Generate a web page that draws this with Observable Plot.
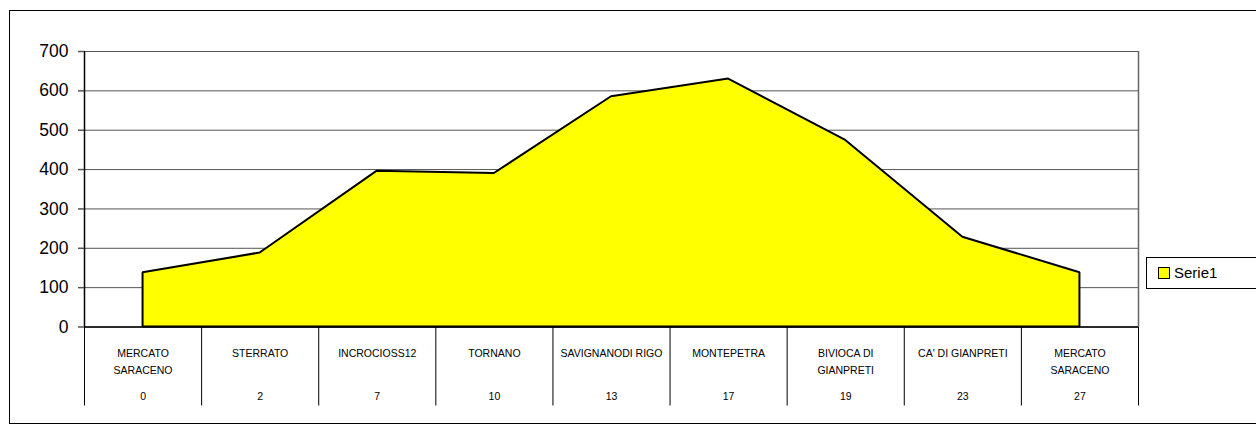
<!DOCTYPE html>
<html><head><meta charset="utf-8">
<script src="https://cdn.jsdelivr.net/npm/d3@7"></script>
<script src="https://cdn.jsdelivr.net/npm/@observablehq/plot@0.6"></script>
<style>
body{margin:0;background:#fff;}
#wrap{position:relative;width:1256px;height:427px;overflow:hidden;font-family:"Liberation Sans",Arial,sans-serif;}
#border{position:absolute;left:9px;top:10px;width:1300px;height:414px;border:1px solid #000;box-sizing:border-box;}
#chart{position:absolute;left:0;top:0;}
#legend{position:absolute;left:1146px;top:257px;width:130px;height:32px;border:1px solid #000;box-sizing:border-box;background:#fff;}
#legend .sw{position:absolute;left:11px;top:9px;width:12px;height:12px;background:#ffff00;border:1px solid #000;box-sizing:border-box;}
#legend .lb{position:absolute;left:27px;top:6px;font-size:15px;line-height:18px;color:#000;}
</style></head>
<body>
<div id="wrap">
  <div id="border"></div>
  <div id="chart"></div>
  <div id="legend"><div class="sw"></div><div class="lb">Serie1</div></div>
</div>
<script>
const names = ["MERCATO\nSARACENO","STERRATO","INCROCIOSS12","TORNANO","SAVIGNANODI RIGO","MONTEPETRA","BIVIOCA DI\nGIANPRETI","CA' DI GIANPRETI","MERCATO\nSARACENO"];
const km = ["0","2","7","10","13","17","19","23","27"];
const elev = [138,188,396,390,585,630,474,228,138];
const yTicks = [0,100,200,300,400,500,600,700];

const idx = names.map((_, i) => i);
const data = idx.map(i => ({i, name: names[i], km: km[i], elev: elev[i]}));
const xDomain = [-0.5, names.length - 0.5];
const bounds = d3.range(xDomain[0], xDomain[1] + 0.01, 1);

const plot = Plot.plot({
  width: 1256, height: 427,
  marginLeft: 84, marginRight: 118, marginTop: 51, marginBottom: 100.5,
  x: {type: "linear", domain: xDomain, axis: null, label: null},
  y: {domain: [0, 700], axis: null, label: null},
  style: {fontFamily: "'Liberation Sans', Arial, sans-serif", background: "transparent", overflow: "visible", color: "#000"},
  marks: [
    Plot.gridY(yTicks, {stroke: "#555", strokeOpacity: 1, strokeWidth: 1}),
    Plot.ruleX([xDomain[1]], {stroke: "#666", strokeWidth: 1.5}),
    Plot.areaY(data, {x: "i", y: "elev", fill: "#ffff00", stroke: "#000", strokeWidth: 2, strokeLinejoin: "miter"}),
    Plot.ruleY([0], {stroke: "#000", strokeWidth: 1.5}),
    Plot.ruleX([xDomain[0]], {stroke: "#000", strokeWidth: 1.5}),
    Plot.axisY(yTicks, {label: null, tickSize: 6, tickPadding: 10, fontSize: 17.5, stroke: "#555", strokeWidth: 1.5, tickFormat: d => String(d)}),
    Plot.axisX(bounds, {label: null, tickSize: 79, tickFormat: () => "", stroke: "#000", strokeWidth: 1}),
    Plot.axisX(idx, {label: null, tickSize: 0, tickPadding: 18.5, fontSize: 10.5, lineHeight: 1.6, lineAnchor: "top", tickFormat: i => names[i]}),
    Plot.axisX(idx, {label: null, tickSize: 0, tickPadding: 65.5, fontSize: 10.5, lineAnchor: "top", tickFormat: i => km[i]})
  ]
});
document.getElementById("chart").appendChild(plot);
</script>
</body></html>
